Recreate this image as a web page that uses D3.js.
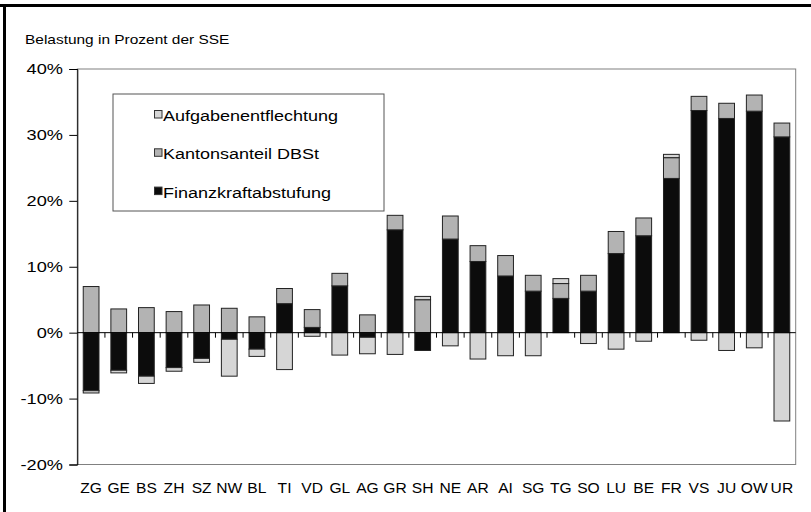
<!DOCTYPE html>
<html><head><meta charset="utf-8">
<script src="https://cdn.jsdelivr.net/npm/d3@7"></script>
<style>body{margin:0;background:#fff}svg{display:block}text{font-family:"Liberation Sans",Arial,sans-serif;fill:#000}</style>
</head><body><div id="chart"></div>
<script>
const categories = ["ZG","GE","BS","ZH","SZ","NW","BL","TI","VD","GL","AG","GR","SH","NE","AR","AI","SG","TG","SO","LU","BE","FR","VS","JU","OW","UR"];
const finanzkraft = [-8.8,-5.7,-6.6,-5.3,-3.9,-1.0,-2.5,4.4,0.8,7.1,-0.7,15.6,-2.7,14.2,10.8,8.6,6.3,5.2,6.3,12.0,14.7,23.4,33.7,32.5,33.6,29.7];
const kantonsanteil = [7.0,3.6,3.8,3.2,4.2,3.7,2.4,2.3,2.7,1.9,2.7,2.2,5.0,3.5,2.4,3.1,2.4,2.25,2.4,3.35,2.7,3.15,2.15,2.3,2.45,2.1];
const aufgaben = [-0.35,-0.4,-1.1,-0.55,-0.6,-5.6,-1.1,-5.6,-0.55,-3.4,-2.5,-3.3,0.5,-2.0,-4.0,-3.5,-3.5,0.75,-1.65,-2.5,-1.3,0.5,-1.15,-2.7,-2.3,-13.4];
const yTicks = [-20,-10,0,10,20,30,40];
const seriesNames = ["Finanzkraftabstufung","Kantonsanteil DBSt","Aufgabenentflechtung"];
const legendOrder = ["Aufgabenentflechtung","Kantonsanteil DBSt","Finanzkraftabstufung"];
const title = "Belastung in Prozent der SSE";

const colors = {"Finanzkraftabstufung":"#0c0c0c","Kantonsanteil DBSt":"#b3b3b3","Aufgabenentflechtung":"#d6d6d6"};
const W = 811, H = 512;
const plot = {left:77.3, right:795.7, top:69, bottom:464.5};

const rows = categories.map((c,i)=>({cat:c,
  "Finanzkraftabstufung":finanzkraft[i],
  "Kantonsanteil DBSt":kantonsanteil[i],
  "Aufgabenentflechtung":aufgaben[i]}));

const svg = d3.select("#chart").append("svg").attr("width",W).attr("height",H);

// outer frame (top & left visible)
svg.append("line").attr("x1",0).attr("x2",W).attr("y1",5.5).attr("y2",5.5).attr("stroke","#000").attr("stroke-width",3);
svg.append("line").attr("x1",4.5).attr("x2",4.5).attr("y1",4).attr("y2",H).attr("stroke","#000").attr("stroke-width",3);

const x = d3.scaleBand().domain(categories).range([plot.left,plot.right]).paddingInner(0.43).paddingOuter(0.215);
const y = d3.scaleLinear().domain([-20,40]).range([plot.bottom,plot.top]);

function stretched(sel, sx){
  sel.each(function(){
    const t=d3.select(this);
    const tx=+t.attr("data-x"), ty=+t.attr("data-y");
    t.attr("transform",`translate(${tx},${ty}) scale(${sx},1)`);
  });
}

// title
svg.append("text").attr("data-x",25).attr("data-y",44).attr("font-size",13).text(title).call(stretched,1.19);

// plot frame
svg.append("rect").attr("x",plot.left).attr("y",y(40)).attr("width",plot.right-plot.left).attr("height",y(-20)-y(40))
  .attr("fill","none").attr("stroke","#808080").attr("stroke-width",1);

// bars
const stack = d3.stack().keys(seriesNames).offset(d3.stackOffsetDiverging);
const stacked = stack(rows);
const g = svg.append("g");
stacked.forEach(s=>{
  g.append("g").selectAll("rect").data(s).join("rect")
    .attr("x",d=>x(d.data.cat))
    .attr("width",x.bandwidth())
    .attr("y",d=>y(Math.max(d[0],d[1])))
    .attr("height",d=>Math.abs(y(d[0])-y(d[1])))
    .attr("fill",colors[s.key])
    .attr("stroke","#222").attr("stroke-width",1);
});

// y axis
const yAxis = d3.axisLeft(y).tickValues(yTicks).tickSize(8).tickPadding(6).tickFormat(d=>d+"%");
const ya = svg.append("g").attr("transform",`translate(${plot.left},0)`).call(yAxis);
ya.select(".domain").attr("stroke","#000");
ya.selectAll(".tick line").attr("stroke","#000");
ya.selectAll(".tick text").remove();
yTicks.forEach(v=>{
  svg.append("text").attr("data-x",63).attr("data-y",y(v)).attr("font-size",14)
    .attr("text-anchor","end").attr("dy","0.36em").text(v+"%").call(stretched,1.3);
});

// zero line with category boundary ticks
const xAxis = d3.axisBottom(x).tickSize(0).tickFormat("");
const xa = svg.append("g").attr("transform",`translate(0,${y(0)})`).call(xAxis);
xa.select(".domain").attr("stroke","#000").attr("d",`M${plot.left},0H${plot.right}`);
xa.selectAll(".tick").remove();
const bounds = categories.slice(1).map(c=>x(c)-x.step()*x.paddingInner()/2);
svg.append("g").selectAll("line").data(bounds).join("line")
  .attr("x1",d=>d).attr("x2",d=>d).attr("y1",y(0)).attr("y2",y(0)+5)
  .attr("stroke","#000").attr("stroke-width",1);

// x labels
categories.forEach(c=>{
  svg.append("text").attr("data-x",x(c)+x.bandwidth()/2).attr("data-y",493).attr("font-size",15)
    .attr("text-anchor","middle").text(c).call(stretched,1.04);
});

// legend
const lg = svg.append("g");
lg.append("rect").attr("x",113).attr("y",94).attr("width",271).attr("height",117)
  .attr("fill","#fff").attr("stroke","#555").attr("stroke-width",1);
legendOrder.forEach((k,i)=>{
  const by = 121 + i*38.3;
  lg.append("rect").attr("x",154.5).attr("y",by-10.5).attr("width",7.5).attr("height",7.5)
    .attr("fill",colors[k]).attr("stroke","#333").attr("stroke-width",1);
  lg.append("text").attr("data-x",163).attr("data-y",by).attr("font-size",15).text(k).call(stretched,1.2);
});
</script></body></html>
